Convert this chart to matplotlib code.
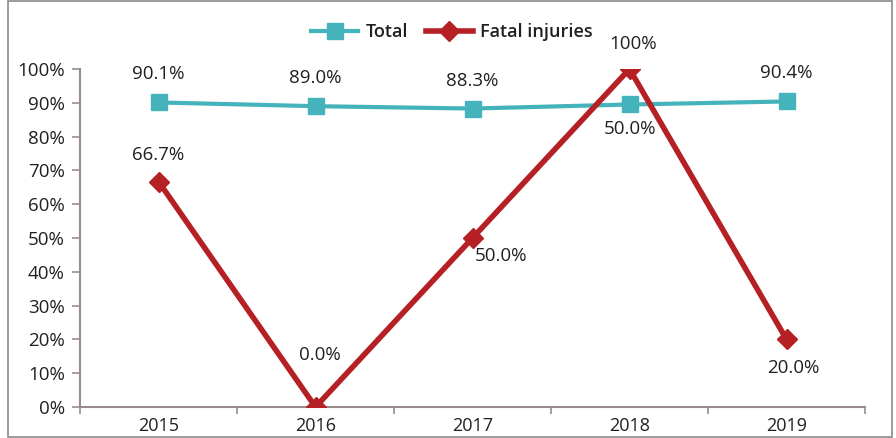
import matplotlib
matplotlib.use("Agg")
import matplotlib.pyplot as plt
from matplotlib.patches import Rectangle

years = ["2015", "2016", "2017", "2018", "2019"]
total = [90.1, 89.0, 88.3, 89.5, 90.4]
fatal = [66.7, 0.0, 50.0, 100.0, 20.0]
total_labels = ["90.1%", "89.0%", "88.3%", "50.0%", "90.4%"]
fatal_labels = ["66.7%", "0.0%", "50.0%", "100%", "20.0%"]

plt.rcParams['font.family'] = ['Open Sans', 'DejaVu Sans']

teal = "#45b3bc"
red = "#b52025"
axis_col = "#9a8c8c"
text_col = "#231f20"

fig = plt.figure(figsize=(8.96, 4.38), dpi=100)
ax = fig.add_axes([80 / 896, 1 - 407 / 438, (865 - 80) / 896, (407 - 69) / 438])

x = list(range(len(years)))
ax.plot(x, total, color=teal, lw=3, marker="s", ms=11, label="Total", zorder=3)
ax.plot(x, fatal, color=red, lw=4, marker="D", ms=10, label="Fatal injuries", zorder=4)

# label offsets in pixels (dx, dy), converted to points
total_off = [(0, 28), (0, 28), (0, 28), (0, -25), (0, 28)]
fatal_off = [(0, 27), (4, 52), (28, -18), (4, 25), (7, -29)]
for i in x:
    dx, dy = total_off[i]
    ax.annotate(total_labels[i], (i, total[i]), xytext=(dx * 0.72, dy * 0.72),
                textcoords="offset points", ha="center", va="center",
                fontsize=13.5, color=text_col, zorder=5)
    dx, dy = fatal_off[i]
    ax.annotate(fatal_labels[i], (i, fatal[i]), xytext=(dx * 0.72, dy * 0.72),
                textcoords="offset points", ha="center", va="center",
                fontsize=13.5, color=text_col, zorder=5)

ax.set_xlim(-0.5, len(years) - 0.5)
ax.set_ylim(0, 100)
ax.set_yticks(range(0, 101, 10))
ax.set_yticklabels([f"{v}%" for v in range(0, 101, 10)])
ax.set_xticks(x)
ax.set_xticklabels(years)
ax.set_xticks([i - 0.5 for i in range(len(years) + 1)], minor=True)
ax.tick_params(axis="x", which="major", length=0, pad=7, labelsize=13, colors=text_col)
ax.tick_params(axis="x", which="minor", length=5, color=axis_col, width=1.2)
ax.tick_params(axis="y", length=6, color=axis_col, width=1.2, labelsize=13.5,
               labelcolor=text_col, pad=5)
for s in ["top", "right"]:
    ax.spines[s].set_visible(False)
for s in ["left", "bottom"]:
    ax.spines[s].set_color(axis_col)
    ax.spines[s].set_linewidth(1.5)

fig.legend(loc="center", bbox_to_anchor=(452 / 896, 1 - 32 / 438), ncol=2, frameon=False,
           handlelength=2.6, columnspacing=1.0, handletextpad=0.4,
           labelcolor=text_col, prop={"size": 13, "weight": "semibold"})

fig.patches.append(Rectangle((8 / 896, 0.002), 884 / 896, 0.996, transform=fig.transFigure,
                             fill=False, edgecolor="#8a8a8a", lw=1.2))

fig.savefig("out.png", dpi=100)
